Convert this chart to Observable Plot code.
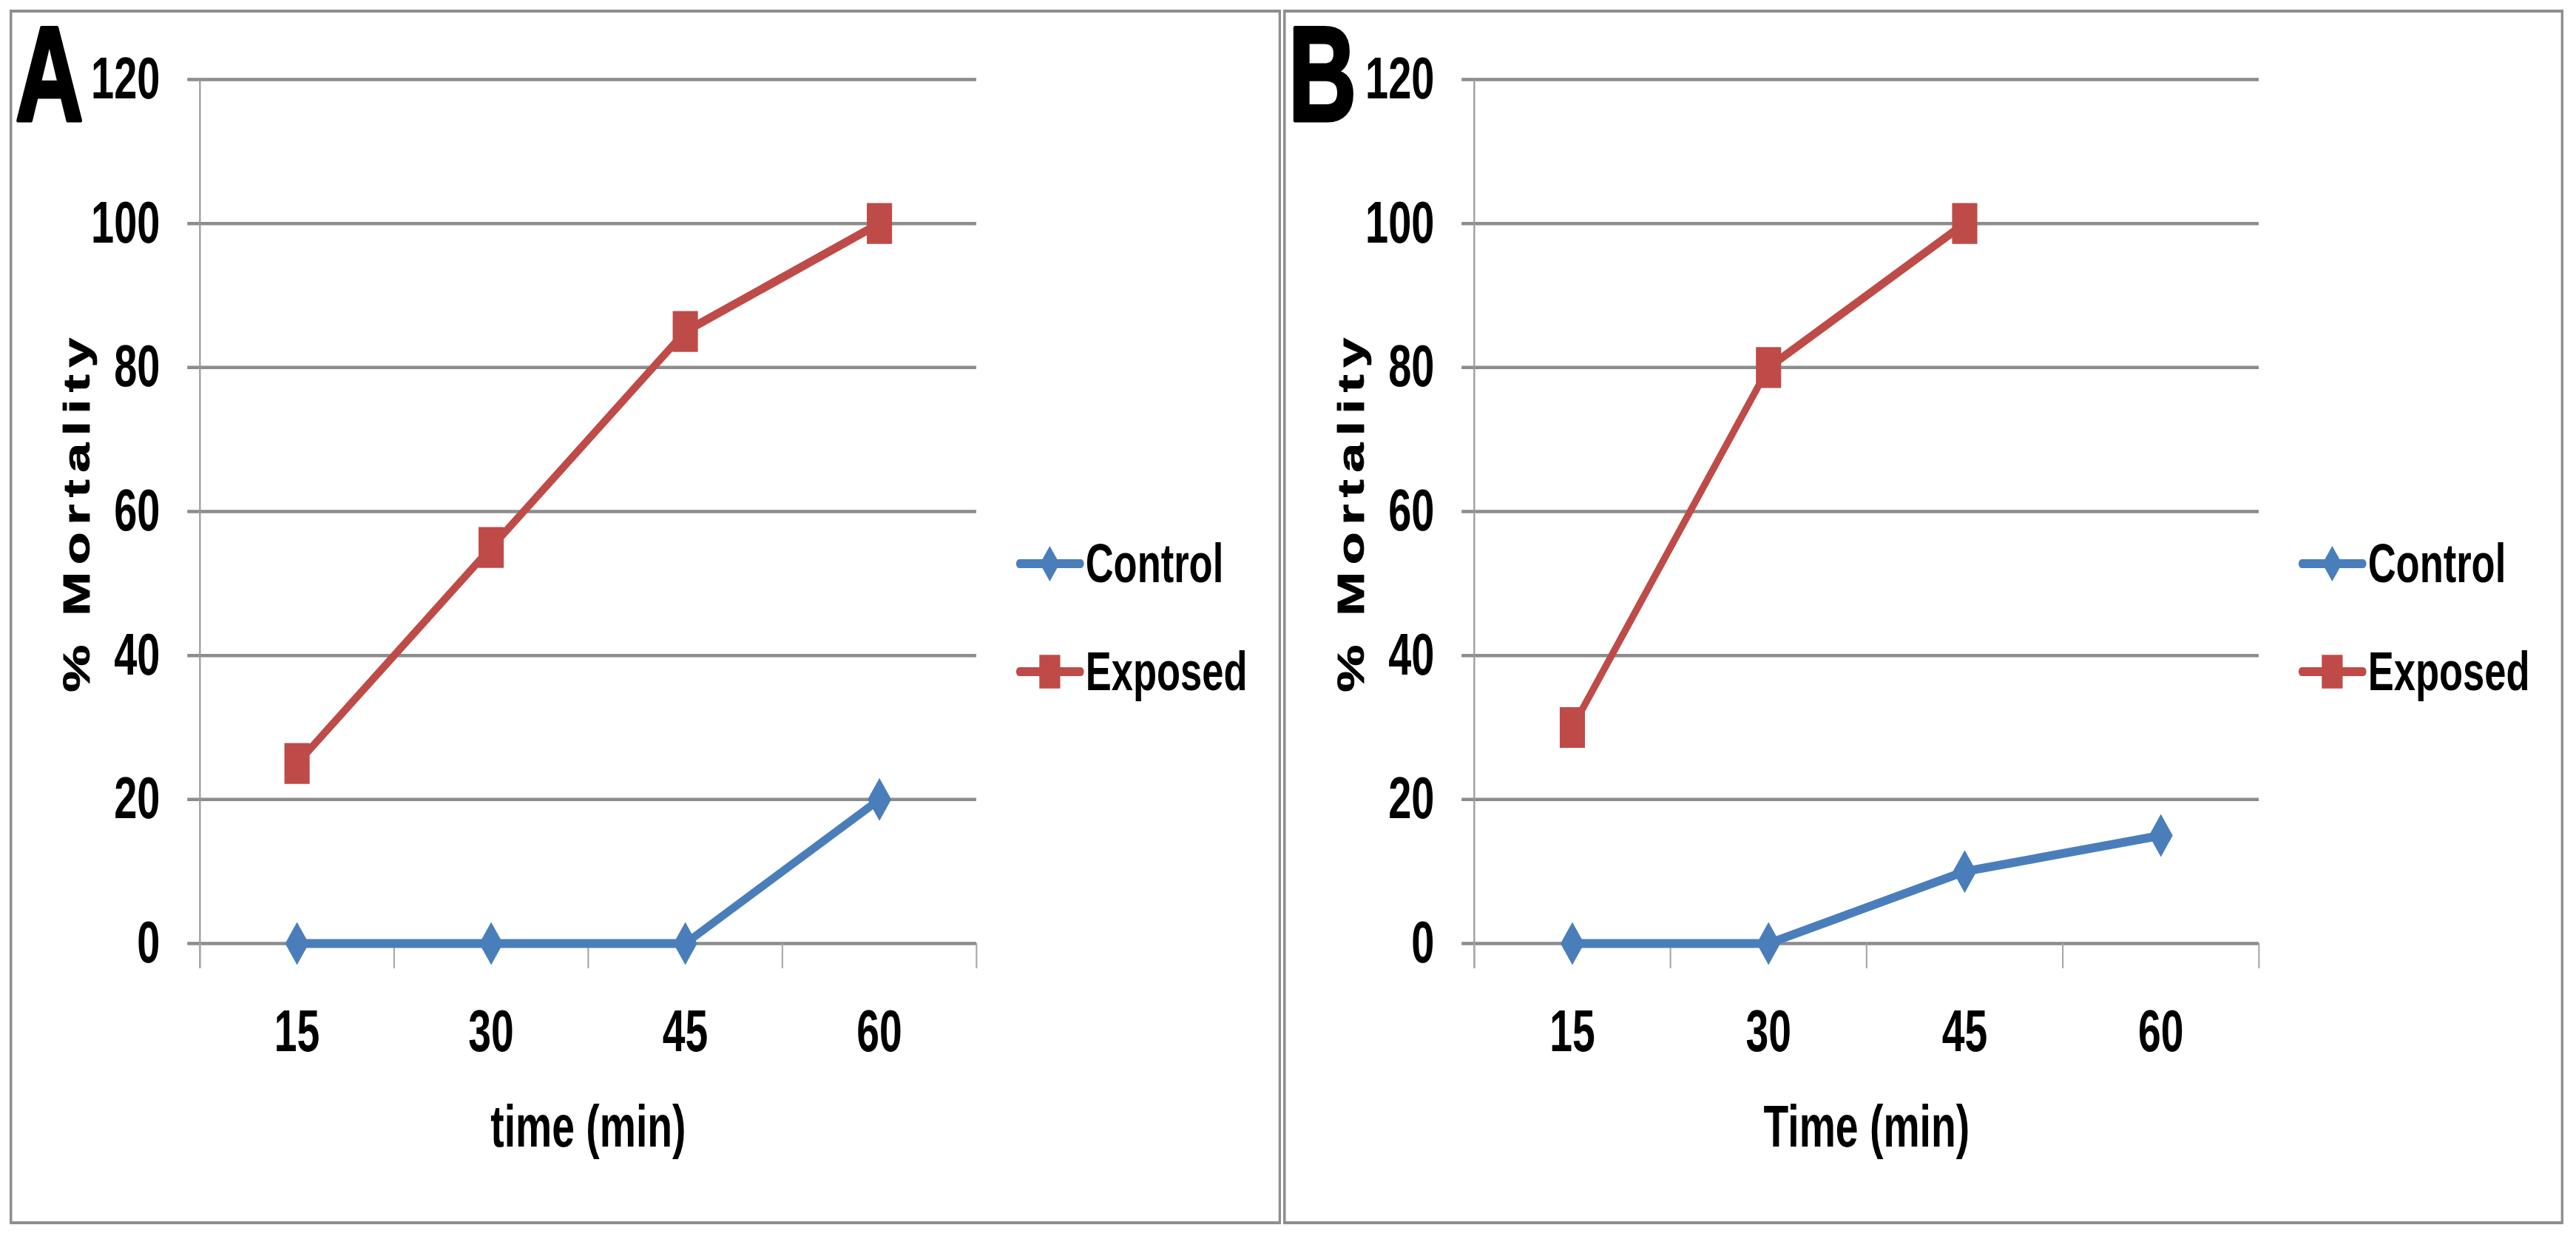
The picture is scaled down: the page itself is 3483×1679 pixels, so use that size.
<!DOCTYPE html>
<html>
<head>
<meta charset="utf-8">
<script src="https://cdn.jsdelivr.net/npm/d3@7"></script>
<script src="https://cdn.jsdelivr.net/npm/@observablehq/plot@0.6"></script>
<style>
  html, body { margin: 0; padding: 0; background: #fff; width: 3483px; height: 1679px; overflow: hidden; }
  .panel { position: absolute; transform-origin: 0 0; }
  .frame { position: absolute; left: 0; top: 0; right: 0; bottom: 0; box-sizing: border-box; border-style: solid; border-color: #8e8e8e; }
  .panel svg { position: absolute; left: 0; top: 0; overflow: visible; }
</style>
</head>
<body>
<div id="root"></div>
<script>
// ---------- data ----------
const times = [15, 30, 45, 60];
const yTicks = [0, 20, 40, 60, 80, 100, 120];
const seriesNames = ["Control", "Exposed"];
const controlA = [0, 0, 0, 20];
const exposedA = [25, 55, 85, 100];
const controlB = [0, 0, 10, 15];
const exposedB = [30, 80, 100, null];
const panelLetters = ["A", "B"];
const xLabels = ["time (min)", "Time (min)"];
const yLabel = "% Mortality";

// ---------- style ----------
const FONT = "'Liberation Sans', Arial, Helvetica, sans-serif";
const COLORS = ["#4A7EBB", "#BE4B48"];
const GRID = "#8c8c8c";
const S = 0.7;                       // horizontal compression of the original picture
const TOP = 13, BOTTOM = 1655, Y120 = 107, Y0 = 1275;

const diamond = {
  draw(ctx, size) {
    const r = Math.sqrt(size / Math.PI), w = 0.79 * r;
    ctx.moveTo(0, -r); ctx.lineTo(w, 0); ctx.lineTo(0, r); ctx.lineTo(-w, 0); ctx.closePath();
  }
};
const square = {
  draw(ctx, size) {
    const r = Math.sqrt(size / Math.PI), h = 0.95 * r, w = 0.84 * r;
    ctx.rect(-w, -h, 2 * w, 2 * h);
  }
};
const symbols = [diamond, square];

const panels = [
  {letter: panelLetters[0], xLabel: xLabels[0], values: [controlA, exposedA], left: 13, right: 1732, axisLeft: 270, plotRight: 1320},
  {letter: panelLetters[1], xLabel: xLabels[1], values: [controlB, exposedB], left: 1735, right: 3466, axisLeft: 1993, plotRight: 3054}
];

const step = times[1] - times[0];
const xDomain = [times[0] - step / 2, times[times.length - 1] + step / 2];
const bounds = d3.range(times.length + 1).map(i => xDomain[0] + i * step);

function drawPanel(p) {
  const Wact = p.right - p.left;
  const W = Wact / S, H = BOTTOM - TOP;
  const mL = (p.axisLeft - p.left) / S, mR = (p.right - p.plotRight) / S;
  const mT = Y120 - TOP, mB = BOTTOM - Y0;

  const seriesRows = seriesNames.map((s, si) =>
    times.map((t, i) => ({time: t, value: p.values[si][i], series: s})).filter(d => d.value != null)
  );

  const marks = [
    Plot.gridY(yTicks, {stroke: GRID, strokeOpacity: 1, strokeWidth: 4.5, insetLeft: -24}),
    Plot.ruleX([xDomain[0]], {stroke: "#9a9a9a", strokeWidth: 3.2, insetBottom: -34}),
    Plot.axisX(bounds, {tickSize: 34, fill: "none", stroke: "#a6a6a6", strokeWidth: 3, label: null}),
    Plot.axisX(times, {tickSize: 0, tickPadding: 89, fontSize: 79, fontWeight: "bold", fill: "black", label: null}),
    Plot.axisY(yTicks, {tickSize: 0, tickPadding: 77, fontSize: 80, fontWeight: "bold", fill: "black", label: null}),
  ];
  seriesRows.forEach((rows, si) => {
    marks.push(Plot.line(rows, {x: "time", y: "value", stroke: COLORS[si], strokeWidth: 12}));
  });
  seriesRows.forEach((rows, si) => {
    marks.push(Plot.dot(rows, {x: "time", y: "value", fill: COLORS[si], stroke: "none", symbol: symbols[si], r: 29}));
  });
  marks.push(Plot.text([p.xLabel], {text: d => d, frameAnchor: "bottom", textAnchor: "middle", lineAnchor: "bottom", dy: 275, fontSize: 79, fontWeight: "bold", fill: "black"}));
  marks.push(Plot.text([yLabel], {text: d => d, frameAnchor: "left", textAnchor: "middle", lineAnchor: "bottom", rotate: -90, dx: -214, fontSize: 72, fontWeight: "bold", fill: "black", stroke: "black", strokeWidth: 1.2}));

  const svg = Plot.plot({
    width: W, height: H,
    marginLeft: mL, marginRight: mR, marginTop: mT, marginBottom: mB,
    x: {type: "linear", domain: xDomain, label: null},
    y: {domain: [yTicks[0], yTicks[yTicks.length - 1]], label: null},
    style: {fontFamily: FONT, background: "none", overflow: "visible"},
    marks
  });

  // letter-spacing of the rotated axis title
  d3.select(svg).selectAll("text").filter(function () { return this.textContent === yLabel; })
    .style("letter-spacing", "9.5px");

  const s = d3.select(svg);
  // panel letter
  s.append("text").attr("x", p.letter === "A" ? 11 : 10).attr("y", 150)
    .attr("text-anchor", "start")
    .attr("font-size", 182).attr("font-weight", "bold").attr("font-family", FONT)
    .attr("fill", "black").attr("stroke", "black").attr("stroke-width", 5).attr("stroke-linejoin", "round")
    .text(p.letter);

  // legend
  const px = W - mR;
  const legY = [749, 895];
  seriesNames.forEach((name, si) => {
    const g = s.append("g").attr("transform", `translate(0,${legY[si]})`);
    g.append("line").attr("x1", px + 83).attr("x2", px + 202).attr("y1", 0).attr("y2", 0)
      .attr("stroke", COLORS[si]).attr("stroke-width", 12).attr("stroke-linecap", "round");
    const path = d3.path();
    symbols[si].draw(path, Math.PI * 24 * 24);
    g.append("path").attr("d", path.toString()).attr("transform", `translate(${px + 142},0)`).attr("fill", COLORS[si]);
    g.append("text").attr("x", px + 211).attr("y", 25).attr("text-anchor", "start")
      .attr("font-size", 75).attr("font-weight", "bold")
      .attr("font-family", FONT).attr("fill", "black").text(name);
  });

  const div = document.createElement("div");
  div.className = "panel";
  div.style.left = p.left + "px";
  div.style.top = TOP + "px";
  div.style.width = W + "px";
  div.style.height = H + "px";
  div.style.transform = `scaleX(${S})`;
  const frame = document.createElement("div");
  frame.className = "frame";
  frame.style.borderWidth = `4px ${4 / S}px`;
  div.appendChild(frame);
  div.appendChild(svg);
  document.getElementById("root").appendChild(div);
}

panels.forEach(drawPanel);
</script>
</body>
</html>
